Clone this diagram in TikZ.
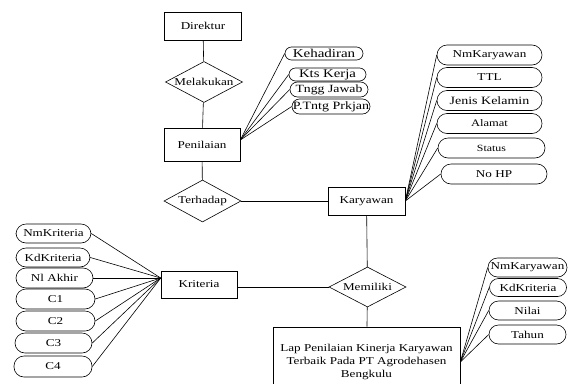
\documentclass[tikz,border=0pt]{standalone}
\usepackage{fontspec}
\setmainfont{Liberation Serif}[FakeStretch=1.25]
\usetikzlibrary{shapes.geometric,calc}
\begin{document}
\begin{tikzpicture}[x=1pt,y=-1pt,line width=0.6pt,
  every node/.style={font=\fontsize{10.5}{13}\selectfont,inner sep=0pt},
  entity/.style={draw,rectangle,minimum width=77pt,minimum height=28pt},
  relation/.style={draw,diamond,minimum width=77pt,minimum height=41pt,shape aspect=1.9},
  attr/.style={draw,rectangle,rounded corners=#1,minimum width=77pt,minimum height=19pt},
  attr/.default=9.5pt]
\clip (0,0) rectangle (569,383);
\fill[white] (0,0) rectangle (569,383);

% entities
\node[entity] (direktur) at (203,26) {Direktur};
\node[entity,minimum width=76pt,minimum height=33pt] (penilaian) at (202,144.5) {Penilaian};
\node[entity] (karyawan) at (366.5,201) {Karyawan};
\node[entity,minimum width=76pt,minimum height=27pt] (kriteria) at (199,284.5) {Kriteria};
\node[entity,minimum width=187pt,minimum height=70pt,align=center] (lap) at (366.5,362)
  {Lap Penilaian Kinerja Karyawan\\Terbaik Pada PT Agrodehasen\\Bengkulu};

% relationships
\node[relation] (melakukan) at (204,82) {Melakukan};
\node[relation,minimum height=42pt] (terhadap) at (202.5,201) {Terhadap};
\node[relation,minimum height=40pt] (memiliki) at (367.5,287) {Memiliki};

\draw (direktur) -- (melakukan);
\draw (melakukan) -- (penilaian);
\draw (penilaian) -- (terhadap);
\draw (terhadap) -- (karyawan);
\draw (karyawan) -- (memiliki);
\draw (kriteria.east |- memiliki.west) -- (memiliki.west);
\draw (memiliki) -- (lap);

% attributes of Penilaian
\begin{scope}[every node/.append style={attr=6.5pt,minimum height=13pt}]
  \node[font=\fontsize{12}{14}\selectfont,minimum width=78pt] (kehadiran) at (324,53.5) {Kehadiran};
  \node[font=\fontsize{11.8}{14}\selectfont] (ktskerja) at (327.5,74.5) {Kts Kerja};
  \node[font=\fontsize{11}{14}\selectfont,minimum height=15pt,rounded corners=7.5pt,minimum width=78pt] (tngg) at (329,89.5) {Tngg Jawab};
  \node[font=\fontsize{11.2}{14}\selectfont,minimum height=15pt,rounded corners=7.5pt,minimum width=78pt] (ptntg) at (331,106.5) {P.Tntg Prkjan};
\end{scope}
\coordinate (pj) at ($(penilaian.east)+(0,-4.5)$);
\foreach \a in {kehadiran,ktskerja,tngg,ptntg} \draw (pj) -- (\a.west);

% attributes of Karyawan
\begin{scope}[every node/.append style={attr=10pt,minimum width=105pt,minimum height=20pt}]
  \node (k1) at (489.5,55) {NmKaryawan};
  \node (k2) at (489.5,77.5) {TTL};
  \node[font=\fontsize{11.2}{13}\selectfont] (k3) at (489.5,100.5) {Jenis Kelamin};
  \node[font=\fontsize{10}{13}\selectfont] (k4) at (489.5,123.5) {Alamat};
  \node[font=\fontsize{9.5}{13}\selectfont,minimum width=107pt] (k5) at (491.5,148) {Status};
  \node[minimum width=106pt] (k6) at (494,174) {No HP};
\end{scope}
\foreach \a in {k1,k2,k3,k4,k5,k6} \draw (karyawan.east) -- (\a.west);

% attributes of Kriteria
\begin{scope}[every node/.append style={attr=10pt,minimum height=20pt}]
  \node[minimum width=75pt,minimum height=19pt] (c0) at (53.5,233.5) {NmKriteria};
  \node[minimum width=74pt,minimum height=19pt] (ck) at (53,257.5) {KdKriteria};
  \node[minimum width=77pt] (cn) at (54.5,278) {Nl Akhir};
  \node[minimum width=79pt] (c1) at (55.5,299) {C1};
  \node[minimum width=79pt] (c2) at (55.5,321) {C2};
  \node[minimum width=77pt] (c3) at (53.5,343) {C3};
  \node[minimum width=78pt,minimum height=21pt] (c4) at (53,366.5) {C4};
\end{scope}
\coordinate (kj) at ($(kriteria.west)+(0,-6.5)$);
\foreach \a in {c0,ck,cn,c1,c2,c3,c4} \draw (kj) -- (\a.east);

% attributes of the report
\begin{scope}[every node/.append style={attr=9.5pt,minimum width=77pt,minimum height=19pt}]
  \node[minimum width=79pt] (l1) at (527.5,267.5) {NmKaryawan};
  \node[minimum height=18pt,rounded corners=9pt] (l2) at (528,287.5) {KdKriteria};
  \node (l3) at (527.5,310.5) {Nilai};
  \node (l4) at (527.5,334.5) {Tahun};
\end{scope}
\foreach \a in {l1,l2,l3,l4} \draw (lap.east) -- (\a.west);
\end{tikzpicture}
\end{document}
